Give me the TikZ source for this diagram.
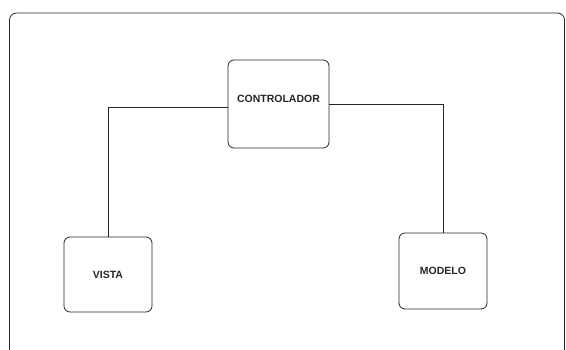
\documentclass[tikz,border=0pt]{standalone}
\usepackage{fontspec}
\setmainfont{Liberation Sans}
\usepackage{tikz}
\usetikzlibrary{calc,positioning}
\tikzstyle{blk}=[draw=black!85, line width=0.8pt, rounded corners=6pt, inner sep=0pt,
    font=\bfseries\fontsize{10.5}{12}\selectfont, text=black!85]
\tikzset{wire/.style={draw=black!85, line width=0.8pt}}

\begin{document}
\begin{tikzpicture}[x=1pt,y=-1pt]
    \useasboundingbox (0,0) rectangle (566,349);
    \clip (0,0) rectangle (566,349);
    % outer frame
    \draw[black!85, line width=0.8pt, rounded corners=7pt] (9.5,380) -- (9.5,13) -- (564.5,13) -- (564.5,380);
    \node [blk, minimum width=101pt, minimum height=88pt, text depth=10pt] (ctrl) at (278.5,104) {CONTROLADOR};
    \node [blk, minimum width=88pt, minimum height=75pt] (vista) at (108,274.5) {VISTA};
    \node [blk, minimum width=88pt, minimum height=76pt] (modelo) at (443,271) {MODELO};
    \path[wire] ([yshift=-3pt]ctrl.west) -| (vista.north);
    \path[wire] (ctrl.east) -| (modelo.north);
\end{tikzpicture}
\end{document}
